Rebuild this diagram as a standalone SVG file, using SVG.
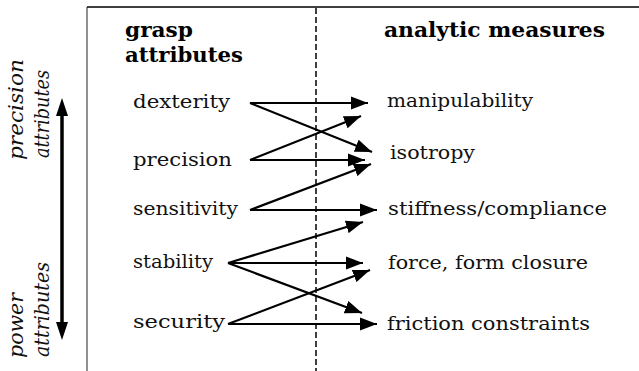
<svg xmlns="http://www.w3.org/2000/svg" width="639" height="371" viewBox="0 0 639 371">
<style>
.lbl{font-family:"DejaVu Serif","Liberation Serif",serif;font-size:18px;fill:#111}
.hdr{font-family:"DejaVu Serif","Liberation Serif",serif;font-size:21px;font-weight:bold;fill:#000}
.side{font-family:"DejaVu Serif","Liberation Serif",serif;font-size:20px;font-style:italic;fill:#111}
.con{stroke:#000;stroke-width:2.2;fill:none;marker-end:url(#ah)}
</style>
<defs>
<marker id="ah" markerUnits="userSpaceOnUse" markerWidth="20" markerHeight="14" refX="17" refY="7" orient="auto">
<path d="M0,0.5 L17,7 L0,13.5 Z" fill="#000"/>
</marker>
</defs>
<g id="frame">
<line x1="87" y1="7" x2="639" y2="7" stroke="#000" stroke-width="1.6"/>
<line x1="87" y1="7" x2="87" y2="371" stroke="#222" stroke-width="1"/>
<line x1="316" y1="8" x2="316" y2="371" stroke="#000" stroke-width="1.5" stroke-dasharray="6 3"/>
</g>
<g id="side-axis">
<line x1="62" y1="114" x2="62" y2="324" stroke="#000" stroke-width="3.5"/>
<path d="M62,98 L68,116 L56,116 Z" fill="#000"/>
<path d="M62,340 L68,322 L56,322 Z" fill="#000"/>
<text class="side" transform="translate(23,160) rotate(-90)" textLength="101" lengthAdjust="spacingAndGlyphs">precision</text>
<text class="side" transform="translate(49,158) rotate(-90)" textLength="88" lengthAdjust="spacingAndGlyphs">attributes</text>
<text class="side" transform="translate(23,358) rotate(-90)" textLength="65" lengthAdjust="spacingAndGlyphs">power</text>
<text class="side" transform="translate(49,357) rotate(-90)" textLength="95" lengthAdjust="spacingAndGlyphs">attributes</text>
</g>
<g id="headers">
<text class="hdr" x="125" y="37" textLength="68" lengthAdjust="spacingAndGlyphs">grasp</text>
<text class="hdr" x="125" y="62" textLength="118" lengthAdjust="spacingAndGlyphs">attributes</text>
<text class="hdr" x="384" y="37" textLength="221" lengthAdjust="spacingAndGlyphs">analytic measures</text>
</g>
<g id="n-dexterity"><text class="lbl" x="133" y="108" textLength="97" lengthAdjust="spacingAndGlyphs">dexterity</text></g>
<g id="n-precision"><text class="lbl" x="133" y="166" textLength="99" lengthAdjust="spacingAndGlyphs">precision</text></g>
<g id="n-sensitivity"><text class="lbl" x="133" y="215" textLength="105" lengthAdjust="spacingAndGlyphs">sensitivity</text></g>
<g id="n-stability"><text class="lbl" x="133" y="268" textLength="80" lengthAdjust="spacingAndGlyphs">stability</text></g>
<g id="n-security"><text class="lbl" x="133" y="328" textLength="92" lengthAdjust="spacingAndGlyphs">security</text></g>
<g id="n-manipulability"><text class="lbl" x="387" y="107" textLength="146" lengthAdjust="spacingAndGlyphs">manipulability</text></g>
<g id="n-isotropy"><text class="lbl" x="390" y="159" textLength="85" lengthAdjust="spacingAndGlyphs">isotropy</text></g>
<g id="n-stiffness"><text class="lbl" x="388" y="215" textLength="219" lengthAdjust="spacingAndGlyphs">stiffness/compliance</text></g>
<g id="n-closure"><text class="lbl" x="388" y="269" textLength="200" lengthAdjust="spacingAndGlyphs">force, form closure</text></g>
<g id="n-friction"><text class="lbl" x="387" y="330" textLength="203" lengthAdjust="spacingAndGlyphs">friction constraints</text></g>
<g id="connectors">
<line class="con" x1="250" y1="103" x2="368" y2="103"/>
<line class="con" x1="250" y1="103" x2="372" y2="152"/>
<line class="con" x1="250" y1="160" x2="361" y2="116"/>
<line class="con" x1="250" y1="160" x2="365" y2="160"/>
<line class="con" x1="250" y1="210" x2="371" y2="164"/>
<line class="con" x1="250" y1="210" x2="377" y2="210"/>
<line class="con" x1="228" y1="263" x2="363" y2="222"/>
<line class="con" x1="228" y1="263" x2="363" y2="263"/>
<line class="con" x1="228" y1="263" x2="362" y2="313"/>
<line class="con" x1="228" y1="324" x2="370" y2="270"/>
<line class="con" x1="228" y1="324" x2="377" y2="324"/>
</g>
</svg>
